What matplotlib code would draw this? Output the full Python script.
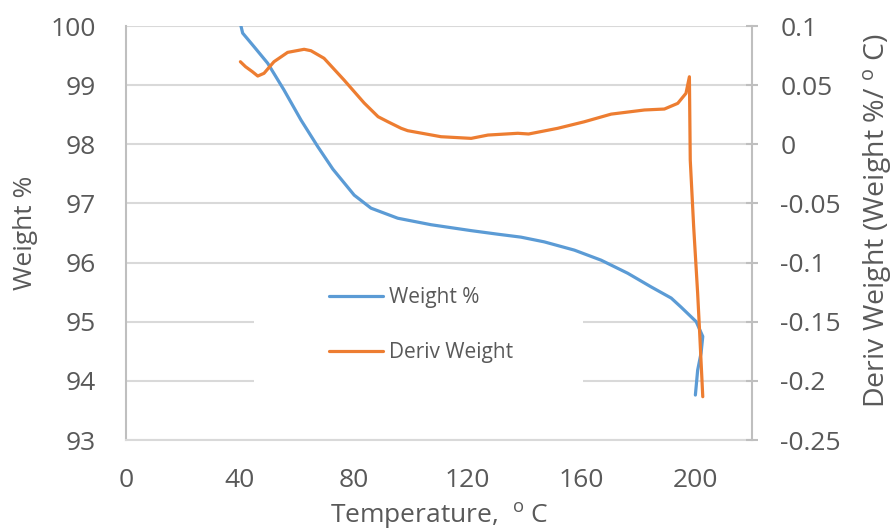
import matplotlib
matplotlib.use("Agg")
import matplotlib.pyplot as plt
from matplotlib.patches import Rectangle

plt.rcParams['font.family'] = ['Open Sans', 'DejaVu Sans']
plt.rcParams['mathtext.default'] = 'regular'

# Thermogravimetric run: weight (%) and its derivative vs temperature
weight_temp = [40.4, 41.0, 45.0, 49.8, 55.5, 61.5, 67.4, 72.7, 80.2, 86.1,
               95.5, 107.2, 121.3, 130.6, 138.8, 147.0, 157.6, 167.0, 176.3,
               184.5, 191.6, 195.0, 200.4, 202.7, 202.1, 200.9, 200.1]
weight_pct = [100.0, 99.88, 99.65, 99.37, 98.92, 98.41, 97.96, 97.58, 97.14,
              96.92, 96.75, 96.64, 96.54, 96.48, 96.43, 96.35, 96.21, 96.04, 95.82,
              95.59, 95.40, 95.25, 95.00, 94.75, 94.47, 94.18, 93.76]

deriv_temp = [40.2, 42.0, 44.4, 46.3, 48.5, 52.0, 56.8, 62.6, 65.0, 69.6, 76.6,
              83.7, 88.6, 92.0, 96.7, 99.0, 110.7, 121.3, 127.2, 137.7, 141.5,
              151.7, 161.0, 170.5, 182.2, 189.2, 193.9, 196.8, 198.0, 198.3,
              199.5, 200.9, 201.5, 202.7]
deriv_weight = [0.0698, 0.0656, 0.0614, 0.0577, 0.0600, 0.0698, 0.0777, 0.0803,
                0.0791, 0.0727, 0.0544, 0.0349, 0.0233, 0.0191, 0.0135, 0.0115,
                0.0064, 0.0050, 0.0078, 0.0093, 0.0087, 0.0135, 0.0190, 0.0255,
                0.0290, 0.0298, 0.0346, 0.0431, 0.0571, -0.0133, -0.0697, -0.126,
                -0.1542, -0.2134]

x_ticks = [0, 40, 80, 120, 160, 200]
left_ticks = [93, 94, 95, 96, 97, 98, 99, 100]
right_ticks = [-0.25, -0.2, -0.15, -0.1, -0.05, 0, 0.05, 0.1]
right_tick_labels = ['-0.25', '-0.2', '-0.15', '-0.1', '-0.05', '0', '0.05', '0.1']

BLUE = '#5B9BD5'
ORANGE = '#ED7D31'
TEXT = '#595959'
GRID = '#D9D9D9'
SPINE = '#BFBFBF'

fig = plt.figure(figsize=(8.94, 5.31), dpi=100)
ax = fig.add_axes([126/894, 1-440/531, (752-126)/894, (440-26)/531])
ax2 = ax.twinx()

ax.set_xlim(0, 220)
ax.set_ylim(93, 100)
ax2.set_ylim(-0.25, 0.1)

ax.set_axisbelow(True)
ax.yaxis.grid(True, color=GRID, linewidth=1.5)
ax.set_xticks(x_ticks)
ax.set_yticks(left_ticks)
ax.set_yticklabels([str(v) for v in left_ticks])
ax2.set_yticks(right_ticks)
ax2.set_yticklabels(right_tick_labels)

for s in ['top', 'right']:
    ax.spines[s].set_visible(False)
ax.spines['left'].set_color(SPINE)
ax.spines['left'].set_linewidth(1.5)
ax.spines['bottom'].set_color(GRID)
ax.spines['bottom'].set_linewidth(1.5)
for s in ['top', 'left', 'bottom']:
    ax2.spines[s].set_visible(False)
ax2.spines['right'].set_color(SPINE)
ax2.spines['right'].set_linewidth(1.5)

ax.tick_params(axis='x', length=0, pad=20, labelsize=19, labelcolor=TEXT)
ax.tick_params(axis='y', length=0, pad=22, labelsize=19, labelcolor=TEXT)
ax2.tick_params(axis='y', direction='inout', length=9, width=1.5, color=SPINE,
                pad=16, labelsize=19, labelcolor=TEXT)

# white panel behind the legend
ax.add_patch(Rectangle(((254-126)/626, (440-395)/414), (583-254)/626, (395-275)/414,
                       transform=ax.transAxes, facecolor='white', edgecolor='none',
                       zorder=1))

l1, = ax.plot(weight_temp, weight_pct, color=BLUE, linewidth=2.3,
              solid_capstyle='round', solid_joinstyle='round', label='Weight %', zorder=3)
l2, = ax2.plot(deriv_temp, deriv_weight, color=ORANGE, linewidth=2.3,
               solid_capstyle='round', solid_joinstyle='round', label='Deriv Weight',
               zorder=3)

leg = ax2.legend(handles=[l1, l2], loc='center left',
                 bbox_to_anchor=((310-126)/626, (440-325)/414),
                 frameon=False, fontsize=15, handlelength=2.6, handletextpad=0.3,
                 labelspacing=1.65, labelcolor=TEXT)

ax.set_ylabel('Weight %', fontsize=19, color=TEXT)
ax.yaxis.set_label_coords(-0.14, 0.5)
ax2.set_ylabel('Deriv Weight (Weight %/ $^{o}$ C)', fontsize=20.5, color=TEXT,
               rotation=90)
ax2.yaxis.set_label_coords(1.174, 0.529)
ax.set_xlabel('Temperature,  $^{o}$ C', fontsize=19, color=TEXT)
ax.xaxis.set_label_coords(0.50, -0.148)

fig.savefig('out.png', dpi=100)
